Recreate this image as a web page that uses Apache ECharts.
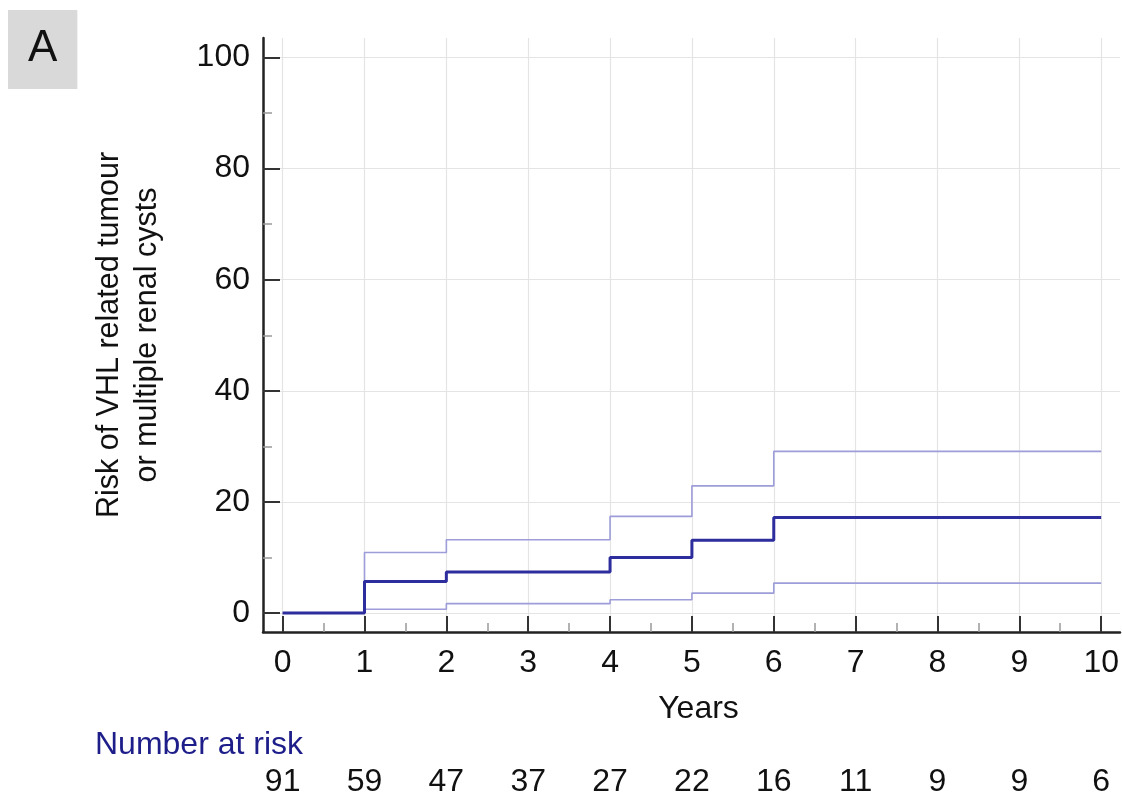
<!DOCTYPE html>
<html>
<head>
<meta charset="utf-8">
<script src="https://cdn.jsdelivr.net/npm/echarts@6/dist/echarts.min.js"></script>
<style>
html,body{margin:0;padding:0;background:#fff;}
#chart{width:1122px;height:798px;}
</style>
</head>
<body>
<div id="chart"></div>
<script>
// ---- data ----
var times = [0, 1, 2, 4, 5, 6, 10];
var risk  = [0, 5.7, 7.4, 10.0, 13.1, 17.2, 17.2];
var upper = [0, 10.9, 13.2, 17.4, 22.9, 29.1, 29.1];
var lower = [0, 0.7, 1.7, 2.4, 3.6, 5.4, 5.4];
var xTicks = [0, 1, 2, 3, 4, 5, 6, 7, 8, 9, 10];
var xMinorTicks = [0.5, 1.5, 2.5, 3.5, 4.5, 5.5, 6.5, 7.5, 8.5, 9.5];
var yTicks = [0, 20, 40, 60, 80, 100];
var yMinorTicks = [10, 30, 50, 70, 90];
var atRisk = [91, 59, 47, 37, 27, 22, 16, 11, 9, 9, 6];

function pairs(xs, ys) { return xs.map(function (x, i) { return [x, ys[i]]; }); }

var FONT = "'Liberation Sans', Arial, sans-serif";
var FS = 32;
var X_MIN = -0.24, X_MAX = 10.23, Y_MIN = -3.4, Y_MAX = 103.5;

var chart = echarts.init(document.getElementById('chart'), null, {renderer: 'canvas'});
var option = {
  animation: false,
  backgroundColor: '#ffffff',
  title: [
    {
      text: 'A', left: 8, top: 10,
      backgroundColor: '#d9d9d9',
      padding: [17, 20, 18, 20],
      textStyle: {fontFamily: FONT, fontSize: 44, fontWeight: 'normal', color: '#111', lineHeight: 44}
    },
    {
      text: 'Number at risk', left: 95, top: 729, padding: 0,
      textStyle: {fontFamily: FONT, fontSize: FS, fontWeight: 'normal', color: '#1e1e8a'}
    }
  ],
  grid: [
    {left: 263, right: 2, top: 38, bottom: 166, containLabel: false},
    {left: 263, right: 2, top: 760, height: 5, containLabel: false}
  ],
  xAxis: [
    {
      type: 'value', gridIndex: 0, min: X_MIN, max: X_MAX, position: 'bottom',
      axisLine: {show: true, onZero: false, lineStyle: {color: '#222', width: 2.5}},
      axisTick: {show: true, inside: true, length: 16, customValues: xTicks, lineStyle: {color: '#333', width: 2}},
      axisLabel: {show: true, customValues: xTicks, margin: 15, fontFamily: FONT, fontSize: FS, color: '#111'},
      splitLine: {show: true, lineStyle: {color: '#e4e4e4', width: 1.2}},
      name: 'Years', nameLocation: 'middle', nameGap: 61,
      nameTextStyle: {fontFamily: FONT, fontSize: FS, color: '#111', padding: [0, 0, 0, 14]}
    },
    {
      type: 'value', gridIndex: 0, min: X_MIN, max: X_MAX, position: 'bottom',
      axisLine: {show: false, onZero: false},
      axisTick: {show: true, inside: true, length: 9, customValues: xMinorTicks, lineStyle: {color: '#999', width: 1.5}},
      axisLabel: {show: false},
      splitLine: {show: false}
    },
    {
      type: 'value', gridIndex: 1, min: X_MIN, max: X_MAX, position: 'bottom',
      axisLine: {show: false, onZero: false},
      axisTick: {show: false, customValues: xTicks},
      axisLabel: {show: true, customValues: xTicks, margin: 5, fontFamily: FONT, fontSize: FS, color: '#111',
        formatter: function (v) { return String(atRisk[Math.round(v)]); }},
      splitLine: {show: false}
    }
  ],
  yAxis: [
    {
      type: 'value', gridIndex: 0, min: Y_MIN, max: Y_MAX, position: 'left',
      axisLine: {show: true, onZero: false, lineStyle: {color: '#222', width: 2.5}},
      axisTick: {show: true, inside: true, length: 17, customValues: yTicks, lineStyle: {color: '#333', width: 2}},
      axisLabel: {show: true, customValues: yTicks, margin: 13, fontFamily: FONT, fontSize: FS, color: '#111'},
      splitLine: {show: true, lineStyle: {color: '#e4e4e4', width: 1.2}},
      name: 'Risk of VHL related tumour\nor multiple renal cysts',
      nameLocation: 'middle', nameRotate: 90, nameGap: 96,
      nameTextStyle: {fontFamily: FONT, fontSize: 30.5, color: '#111', lineHeight: 38, align: 'center'}
    },
    {
      type: 'value', gridIndex: 0, min: Y_MIN, max: Y_MAX, position: 'left',
      axisLine: {show: false, onZero: false},
      axisTick: {show: true, inside: true, length: 9, customValues: yMinorTicks, lineStyle: {color: '#999', width: 1.5}},
      axisLabel: {show: false},
      splitLine: {show: false}
    },
    {
      type: 'value', gridIndex: 1, min: 0, max: 1, show: false
    }
  ],
  series: [
    {
      name: 'Upper', type: 'line', xAxisIndex: 0, yAxisIndex: 0, step: 'end',
      data: pairs(times, upper), showSymbol: false, symbol: 'none', z: 3,
      lineStyle: {color: '#9d9dd9', width: 1.6}
    },
    {
      name: 'Lower', type: 'line', xAxisIndex: 0, yAxisIndex: 0, step: 'end',
      data: pairs(times, lower), showSymbol: false, symbol: 'none', z: 3,
      lineStyle: {color: '#9d9dd9', width: 1.6}
    },
    {
      name: 'Risk', type: 'line', xAxisIndex: 0, yAxisIndex: 0, step: 'end',
      data: pairs(times, risk), showSymbol: false, symbol: 'none', z: 4,
      lineStyle: {color: '#2d2d9e', width: 3}
    }
  ]
};
chart.setOption(option);
</script>
</body>
</html>
